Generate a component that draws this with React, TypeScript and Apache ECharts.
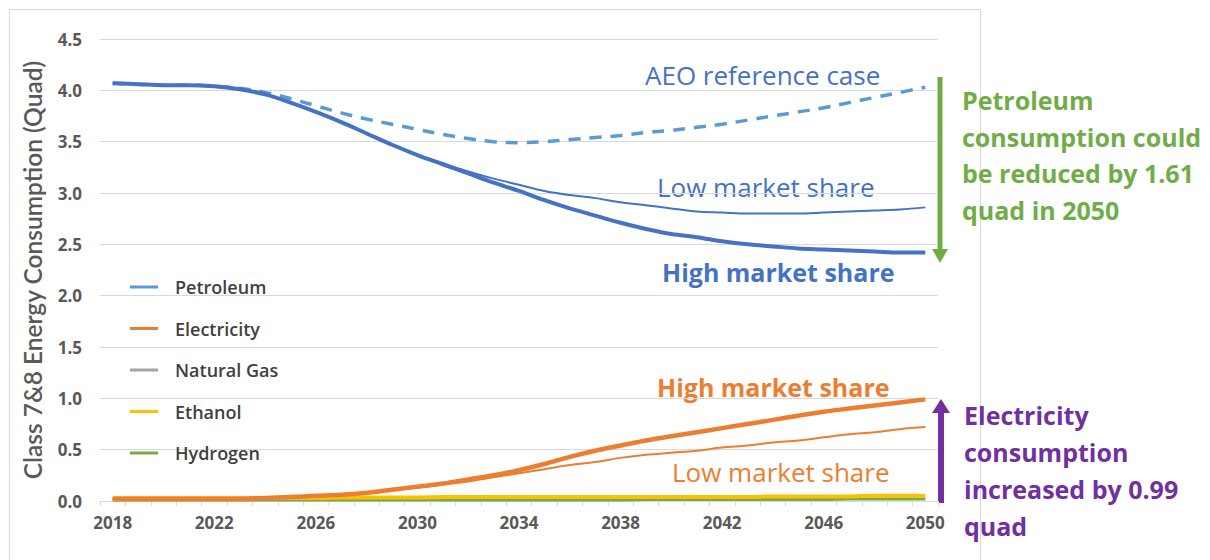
import React, { useEffect, useRef } from "react";
import * as echarts from "echarts";

const years: string[] = [
  "2018","2019","2020","2021","2022","2023","2024","2025","2026","2027","2028",
  "2029","2030","2031","2032","2033","2034","2035","2036","2037","2038","2039",
  "2040","2041","2042","2043","2044","2045","2046","2047","2048","2049","2050",
];

const petroleumHigh: number[] = [
  4.07, 4.06, 4.05, 4.05, 4.04, 4.01, 3.96, 3.88, 3.79, 3.69, 3.58,
  3.47, 3.37, 3.28, 3.19, 3.10, 3.02, 2.93, 2.85, 2.78, 2.71, 2.65,
  2.60, 2.57, 2.53, 2.50, 2.48, 2.46, 2.45, 2.44, 2.43, 2.42, 2.42,
];
const petroleumLow: number[] = [
  4.07, 4.06, 4.05, 4.05, 4.04, 4.01, 3.96, 3.88, 3.79, 3.69, 3.58,
  3.47, 3.37, 3.29, 3.21, 3.14, 3.08, 3.02, 2.98, 2.95, 2.91, 2.88,
  2.85, 2.82, 2.81, 2.80, 2.80, 2.80, 2.81, 2.82, 2.83, 2.84, 2.86,
];
const petroleumAEO: number[] = [
  4.07, 4.06, 4.05, 4.05, 4.04, 4.02, 3.98, 3.92, 3.85, 3.78, 3.72,
  3.67, 3.62, 3.57, 3.53, 3.50, 3.49, 3.50, 3.52, 3.54, 3.56, 3.59,
  3.61, 3.64, 3.67, 3.71, 3.75, 3.79, 3.83, 3.88, 3.93, 3.98, 4.03,
];
const electricityHigh: number[] = [
  0.02, 0.02, 0.02, 0.02, 0.02, 0.02, 0.03, 0.04, 0.05, 0.06, 0.08,
  0.11, 0.14, 0.17, 0.21, 0.25, 0.30, 0.36, 0.43, 0.49, 0.54, 0.59,
  0.63, 0.67, 0.71, 0.75, 0.79, 0.83, 0.87, 0.90, 0.93, 0.96, 0.99,
];
const electricityLow: number[] = [
  0.02, 0.02, 0.02, 0.02, 0.02, 0.02, 0.03, 0.04, 0.05, 0.06, 0.08,
  0.11, 0.13, 0.16, 0.19, 0.23, 0.27, 0.31, 0.35, 0.38, 0.42, 0.45,
  0.47, 0.49, 0.52, 0.54, 0.57, 0.59, 0.62, 0.65, 0.67, 0.70, 0.72,
];
const naturalGas: number[] = [
  0.02, 0.02, 0.02, 0.02, 0.02, 0.02, 0.02, 0.02, 0.02, 0.02, 0.02,
  0.02, 0.02, 0.02, 0.02, 0.02, 0.02, 0.02, 0.02, 0.02, 0.02, 0.02,
  0.02, 0.02, 0.02, 0.02, 0.02, 0.02, 0.02, 0.02, 0.02, 0.02, 0.02,
];
const ethanol: number[] = [
  0.03, 0.03, 0.03, 0.03, 0.03, 0.03, 0.03, 0.03, 0.03, 0.035, 0.035,
  0.035, 0.035, 0.04, 0.04, 0.04, 0.04, 0.04, 0.04, 0.04, 0.04, 0.04,
  0.04, 0.04, 0.04, 0.04, 0.045, 0.045, 0.045, 0.045, 0.05, 0.05, 0.05,
];
const hydrogen: number[] = [
  0.01, 0.01, 0.01, 0.01, 0.01, 0.01, 0.01, 0.01, 0.01, 0.01, 0.01,
  0.01, 0.01, 0.01, 0.01, 0.01, 0.01, 0.01, 0.01, 0.01, 0.01, 0.015,
  0.015, 0.015, 0.015, 0.015, 0.015, 0.015, 0.015, 0.02, 0.02, 0.02, 0.02,
];

const legendNames: string[] = ["Petroleum", "Electricity", "Natural Gas", "Ethanol", "Hydrogen"];
const legendColors: string[] = ["#5B9BD5", "#ED7D31", "#A5A5A5", "#FFC000", "#70AD47"];

const FONT_H = "'Open Sans', Lato, sans-serif";
const FONT_V = "Lato, 'Open Sans', sans-serif";

export default function App() {
  const ref = useRef<HTMLDivElement>(null);

  useEffect(() => {
    if (!ref.current) return;
    const chart = echarts.init(ref.current, undefined, { renderer: "svg" });

    const line = (name: string, data: number[], color: string, width: number, extra: any = {}) => ({
      name,
      type: "line",
      data,
      smooth: 0.35,
      symbol: "none",
      showSymbol: false,
      lineStyle: { color, width, ...(extra.lineStyle || {}) },
      itemStyle: { color },
      z: extra.z ?? 2,
    });

    const greenText = "Petroleum\nconsumption could\nbe reduced by 1.61\nquad in 2050";
    const purpleText = "Electricity\nconsumption\nincreased by 0.99\nquad";

    chart.setOption({
      animation: false,
      backgroundColor: "#ffffff",
      textStyle: { fontFamily: FONT_H },
      grid: { left: 100, right: 272, top: 39, bottom: 59, containLabel: false },
      legend: {
        orient: "vertical",
        left: 125,
        top: 273,
        itemGap: 23.5,
        itemWidth: 28,
        itemHeight: 3,
        icon: "rect",
        selectedMode: false,
        textStyle: { fontSize: 18, color: "#404040", fontWeight: 600, fontFamily: FONT_H, padding: [0, 0, 0, 12] },
        data: legendNames.map((n, i) => ({ name: n, itemStyle: { color: legendColors[i] } })),
      },
      xAxis: {
        type: "category",
        data: years,
        boundaryGap: true,
        axisLine: { lineStyle: { color: "#D9D9D9", width: 1 } },
        axisTick: { show: true, interval: 0, length: 5, lineStyle: { color: "#D9D9D9" } },
        axisLabel: {
          interval: 3,
          color: "#595959",
          fontSize: 17,
          fontWeight: "bold",
          margin: 13,
          fontFamily: FONT_H,
        },
      },
      yAxis: {
        type: "value",
        min: 0,
        max: 4.5,
        interval: 0.5,
        name: "Class 7&8 Energy Consumption (Quad)",
        nameLocation: "middle",
        nameGap: 55,
        nameTextStyle: { fontSize: 24.5, color: "#595959", fontFamily: FONT_V, fontWeight: 600 },
        axisLine: { show: false },
        axisTick: { show: false },
        splitLine: { lineStyle: { color: "#D9D9D9", width: 1 } },
        axisLabel: {
          color: "#595959",
          fontSize: 17,
          fontWeight: "bold",
          margin: 18,
          fontFamily: FONT_H,
          formatter: (v: number) => v.toFixed(1),
        },
      },
      series: [
        line("Natural Gas", naturalGas, "#A5A5A5", 2),
        line("Hydrogen", hydrogen, "#70AD47", 3),
        line("Ethanol", ethanol, "#FFC000", 4),
        line("Electricity (low market share)", electricityLow, "#ED7D31", 2),
        line("Electricity", electricityHigh, "#ED7D31", 4.5, { z: 3 }),
        line("Petroleum (AEO reference case)", petroleumAEO, "#5B9BD5", 3.5, {
          lineStyle: { type: [12, 9] },
        }),
        line("Petroleum (low market share)", petroleumLow, "#4472C4", 2),
        line("Petroleum", petroleumHigh, "#4472C4", 4, { z: 4 }),
      ],
      graphic: [
        {
          type: "rect",
          shape: { x: 9.5, y: 9.5, width: 971, height: 600 },
          style: { fill: "none", stroke: "#D9D9D9", lineWidth: 1 },
          silent: true,
          z: -10,
        },
        {
          type: "text", x: 645, y: 75,
          style: { text: "AEO reference case", fill: "#4472C4", fontSize: 26, fontFamily: FONT_H, verticalAlign: "middle" },
        },
        {
          type: "text", x: 657, y: 187,
          style: { text: "Low market share", fill: "#4472C4", fontSize: 26, fontFamily: FONT_H, verticalAlign: "middle" },
        },
        {
          type: "text", x: 662, y: 272,
          style: { text: "High market share", fill: "#4472C4", fontSize: 25, fontWeight: "bold", fontFamily: FONT_H, verticalAlign: "middle" },
        },
        {
          type: "text", x: 657, y: 387,
          style: { text: "High market share", fill: "#ED7D31", fontSize: 25, fontWeight: "bold", fontFamily: FONT_H, verticalAlign: "middle" },
        },
        {
          type: "text", x: 672, y: 472,
          style: { text: "Low market share", fill: "#ED7D31", fontSize: 26, fontFamily: FONT_H, verticalAlign: "middle" },
        },
        {
          type: "text", x: 962, y: 82,
          style: { text: greenText, fill: "#70AD47", fontSize: 25, fontWeight: "bold", fontFamily: FONT_H, lineHeight: 36.5, verticalAlign: "top" },
        },
        {
          type: "text", x: 964, y: 397,
          style: { text: purpleText, fill: "#7030A0", fontSize: 25, fontWeight: "bold", fontFamily: FONT_H, lineHeight: 36.8, verticalAlign: "top" },
        },
        {
          type: "line",
          shape: { x1: 940, y1: 77, x2: 940, y2: 252 },
          style: { stroke: "#70AD47", lineWidth: 5 },
        },
        {
          type: "polygon",
          shape: { points: [[932, 249], [948, 249], [940, 263]] },
          style: { fill: "#70AD47" },
        },
        {
          type: "line",
          shape: { x1: 941, y1: 503, x2: 941, y2: 410 },
          style: { stroke: "#7030A0", lineWidth: 6 },
        },
        {
          type: "polygon",
          shape: { points: [[932, 413], [950, 413], [941, 399]] },
          style: { fill: "#7030A0" },
        },
      ],
    });

    return () => chart.dispose();
  }, []);

  return (
    <div
      ref={ref}
      style={{ position: "fixed", left: 0, top: 0, width: 1210, height: 560, background: "#fff" }}
    />
  );
}
